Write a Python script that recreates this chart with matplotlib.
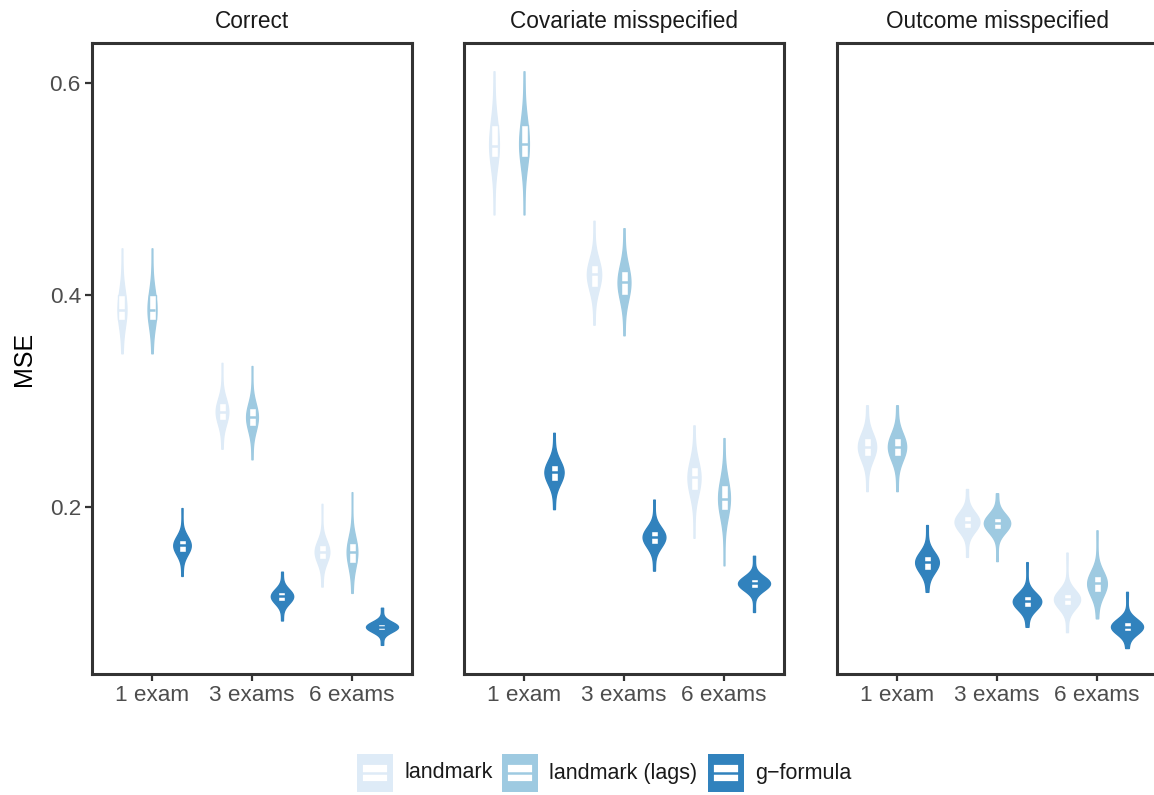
import numpy as np
import matplotlib.pyplot as plt
from matplotlib.patches import Rectangle

plt.rcParams['font.family'] = ['Liberation Sans', 'DejaVu Sans']

# facets, x categories and methods
panels = ["Correct", "Covariate misspecified", "Outcome misspecified"]
exams = ["1 exam", "3 exams", "6 exams"]
methods = ["landmark", "landmark (lags)", "g\u2212formula"]
colors = ["#deebf7", "#9ecae1", "#3182bd"]

# five-number summaries of MSE (min, q1, median, q3, max), one row per exam count
correct_landmark = [[0.345, 0.376, 0.386, 0.400, 0.444],
                    [0.255, 0.282, 0.290, 0.298, 0.336],
                    [0.125, 0.151, 0.158, 0.164, 0.203]]
correct_lags = [[0.345, 0.376, 0.386, 0.400, 0.444],
                [0.245, 0.276, 0.285, 0.293, 0.333],
                [0.119, 0.147, 0.158, 0.166, 0.214]]
correct_gformula = [[0.135, 0.158, 0.164, 0.169, 0.199],
                    [0.093, 0.111, 0.116, 0.120, 0.139],
                    [0.070, 0.084, 0.087, 0.090, 0.105]]

covariate_landmark = [[0.476, 0.530, 0.541, 0.560, 0.611],
                      [0.372, 0.408, 0.420, 0.428, 0.470],
                      [0.171, 0.216, 0.228, 0.238, 0.277]]
covariate_lags = [[0.476, 0.530, 0.542, 0.560, 0.611],
                  [0.362, 0.400, 0.412, 0.423, 0.463],
                  [0.145, 0.197, 0.208, 0.221, 0.265]]
covariate_gformula = [[0.198, 0.225, 0.233, 0.240, 0.270],
                      [0.140, 0.165, 0.172, 0.177, 0.207],
                      [0.101, 0.124, 0.128, 0.132, 0.154]]

outcome_landmark = [[0.215, 0.248, 0.257, 0.265, 0.296],
                    [0.153, 0.180, 0.186, 0.192, 0.217],
                    [0.082, 0.108, 0.113, 0.118, 0.157]]
outcome_lags = [[0.215, 0.248, 0.257, 0.265, 0.296],
                [0.149, 0.179, 0.185, 0.190, 0.213],
                [0.095, 0.120, 0.128, 0.135, 0.178]]
outcome_gformula = [[0.120, 0.141, 0.148, 0.154, 0.183],
                    [0.087, 0.106, 0.111, 0.116, 0.148],
                    [0.067, 0.083, 0.087, 0.092, 0.120]]

panel_data = [[correct_landmark, correct_lags, correct_gformula],
              [covariate_landmark, covariate_lags, covariate_gformula],
              [outcome_landmark, outcome_lags, outcome_gformula]]


def density(s, y):
    # smooth density built around the five summary values
    mn, q1, med, q3, mx = s
    iqr = q3 - q1
    rng = mx - mn
    hc = 0.35 * iqr + 0.06 * rng
    pts = np.array([mn, q1, med, q3, mx])
    w = np.array([0.08, 0.24, 0.36, 0.24, 0.08])
    h = np.array([0.45 * (q1 - mn), hc, hc, hc, 0.45 * (mx - q3)])
    d = np.zeros_like(y)
    for p, wi, hi in zip(pts, w, h):
        d += wi * np.exp(-0.5 * ((y - p) / hi) ** 2) / (hi * np.sqrt(2 * np.pi))
    return d


W, H = 1154, 795
fig = plt.figure(figsize=(W / 100, H / 100), dpi=100)
lefts = [92, 464, 837]
top, bottom = 43, 674
dodge = [-0.3, 0.0, 0.3]

for p, (title, left) in enumerate(zip(panels, lefts)):
    ax = fig.add_axes([left / W, (H - bottom) / H, 320 / W, (bottom - top) / H])
    curves = []
    for m in range(3):
        for e in range(3):
            s = panel_data[p][m][e]
            y = np.linspace(s[0], s[4], 300)
            curves.append((m, e, y, density(s, y)))
    dmax = max(c[3].max() for c in curves)
    for m, e, y, d in curves:
        x0 = e + 1 + dodge[m]
        hw = 0.16 * d / dmax
        ax.fill_betweenx(y, x0 - hw, x0 + hw, facecolor=colors[m],
                         edgecolor=colors[m], lw=1.0, zorder=2)
        s = panel_data[p][m][e]
        bw = 0.07
        ax.add_patch(Rectangle((x0 - bw / 2, s[1]), bw, s[3] - s[1],
                               facecolor="white", edgecolor=colors[m],
                               lw=1.0, zorder=3))
        ax.plot([x0 - bw / 2, x0 + bw / 2], [s[2], s[2]], color=colors[m],
                lw=1.8, solid_capstyle="butt", zorder=4)

    ax.set_xlim(0.4, 3.6)
    ax.set_ylim(0.0425, 0.6377)
    ax.set_xticks([1, 2, 3])
    ax.set_xticklabels(exams)
    ax.set_yticks([0.2, 0.4, 0.6])
    if p == 0:
        ax.set_yticklabels(["0.2", "0.4", "0.6"])
        ax.set_ylabel("MSE", fontsize=18, color="black", labelpad=10)
    else:
        ax.tick_params(axis="y", left=False, labelleft=False)
    ax.tick_params(colors="#333333", labelcolor="#4d4d4d", labelsize=16.2,
                   length=5, width=1.6, pad=3)
    for sp in ax.spines.values():
        sp.set_color("#333333")
        sp.set_linewidth(2.2)
    ax.text(0.5, 1.0 + 22 / (bottom - top), title, transform=ax.transAxes,
            ha="center", va="center", fontsize=16.3, color="#1a1a1a")

# legend
lax = fig.add_axes([0, 0, 1, 1], facecolor="none")
lax.set_xlim(0, W)
lax.set_ylim(H, 0)
lax.axis("off")
key_x = [357, 502, 708]
for m in range(3):
    kx = key_x[m]
    lax.add_patch(Rectangle((kx, 754), 36, 38, facecolor=colors[m], edgecolor="none"))
    lax.add_patch(Rectangle((kx + 5, 764), 26, 18, facecolor="white",
                            edgecolor=colors[m], lw=1.3))
    lax.plot([kx + 5, kx + 31], [773, 773], color=colors[m], lw=1.8)
    lax.text(kx + 47, 773, methods[m], ha="left", va="center",
             fontsize=15.5, color="#1a1a1a")

fig.savefig("out.png", dpi=100)
